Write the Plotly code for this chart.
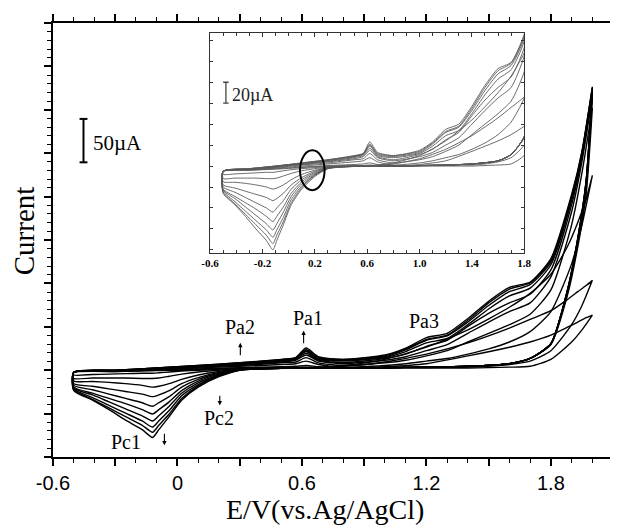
import plotly.graph_objects as go

# ---------------- data (potential in V, current in µA, baseline = 0) ----------------
fwd_E = [-0.5, -0.3, -0.1, 0.1, 0.3, 0.5, 0.57, 0.62, 0.68, 0.8, 1.0, 1.1, 1.2, 1.3,
         1.4, 1.5, 1.6, 1.7, 1.8, 1.9, 1.95, 2.0]
rev_E = [2.0, 1.97, 1.93, 1.88, 1.8, 1.7, 1.6, 1.4, 1.2, 1.0, 0.8, 0.6, 0.4, 0.3,
         0.2, 0.1, 0.02, -0.04, -0.09, -0.12, -0.17, -0.25, -0.33, -0.41, -0.5]

cycle1_fwd = [-5, -4, -3, -1.5, 0, 0.5, 0.5, 1, 0.5, 0, 0, 0, 0, 0, 0, 0.5, 1, 2, 10, 30, 44, 61]
cycle2_fwd = [-5, -4, -2.5, -1, 0.5, 1.5, 2, 3, 1.5, 0, 0, 0.5, 0.5, 1, 1, 2, 4, 8, 20, 50, 72, 101]
cycle3_fwd = [-5, -3.5, -2, 0, 2, 4, 5, 8, 4, 1, 3, 5, 8, 11, 16, 22, 30, 42, 65, 120, 165, 222]
cycle4_fwd = [-5, -3.5, -1.5, 1, 3, 6, 7, 12, 6, 3, 6, 9, 14, 20, 30, 40, 50, 62, 90, 165, 225, 300]
cycle5_fwd = [-5, -3, -1, 1.5, 4, 7, 9, 15, 8, 5, 9, 13, 20, 27, 40, 53, 65, 75, 105, 180, 238, 312]
cycle6_fwd = [-5, -3, -0.5, 2, 4.5, 8, 10, 17, 9, 6, 11, 16, 25, 32, 48, 63, 75, 85, 113, 188, 243, 318]
cycle7_fwd = [-5, -3, -0.5, 2.5, 5, 9, 11, 19, 10, 8, 12, 19, 29, 34, 50, 68, 83, 92, 119, 193, 246, 320]
cycle8_fwd = [-5, -2.5, 0, 2.5, 5.5, 9, 11.5, 20, 11, 9, 13, 21, 32, 37, 53, 72, 88, 96, 122, 196, 248, 322]
cycle9_fwd = [-5, -2.5, 0, 3, 6, 9.5, 12, 21, 12, 10, 14, 22, 33, 38, 55, 75, 91, 98, 124, 198, 249, 323]
cycle10_fwd = [-5, -2.5, 0, 3, 6, 10, 12, 23, 13, 10, 15, 23, 35, 40, 57, 77, 93, 99, 126, 200, 250, 324]

cycle1_rev = [61, 58, 53, 47, 38, 30, 24, 14, 5, 1.5, 0, 0, 0, -0.5, -1.5, -2.5, -3.5, -4.5, -5.5, -6, -6, -6.5, -7, -7.5, -8]
cycle2_rev = [101, 95, 88, 79, 66, 56, 46, 29, 16, 7, 2, 0, -0.3, -1, -2.5, -4.5, -7, -9.5, -11.5, -12, -12, -11.5, -11.5, -11.5, -12]
cycle3_rev = [222, 195, 168, 140, 108, 86, 70, 44, 24, 10, 3, 0, -0.5, -1.2, -4, -8, -13, -18, -21, -22, -20, -18, -16.5, -15.5, -15]
cycle4_rev = [300, 200, 140, 84, 27, 11, 5, 2, 1, 0.5, 0, 0, -0.5, -1.5, -5, -11, -18, -26, -31, -33, -30, -27, -24, -21, -18]
cycle5_rev = [312, 208, 145, 87, 28, 11, 5, 2, 1, 0.5, 0, 0, -0.6, -1.8, -6, -13, -22, -33, -40, -44, -40, -35, -30, -25, -20]
cycle6_rev = [318, 212, 147, 88, 28, 11, 5, 2, 1, 0.5, 0, 0, -0.7, -2, -7, -15, -26, -39, -48, -53, -48, -41, -35, -29, -22]
cycle7_rev = [320, 213, 148, 89, 28, 11, 5, 2, 1, 0.5, 0, 0, -0.8, -2, -8, -17, -29, -44, -55, -61, -55, -47, -39, -31, -23]
cycle8_rev = [322, 215, 149, 89, 28, 11, 5, 2, 1, 0.5, 0, 0, -0.9, -2.2, -8.5, -19, -32, -49, -61, -68, -61, -52, -43, -34, -24]
cycle9_rev = [323, 215, 150, 90, 28, 11, 5, 2, 1, 0.5, 0, 0, -1, -2.4, -9, -20.5, -35, -53, -66, -74, -66, -56, -46, -36, -25]
cycle10_rev = [324, 216, 150, 90, 28, 11, 5, 2, 1, 0.5, 0, 0, -1, -2.5, -10, -22, -37, -56, -71, -80, -71, -60, -48, -37, -26]

fwd_cycles = [cycle1_fwd, cycle2_fwd, cycle3_fwd, cycle4_fwd, cycle5_fwd,
              cycle6_fwd, cycle7_fwd, cycle8_fwd, cycle9_fwd, cycle10_fwd]
rev_cycles = [cycle1_rev, cycle2_rev, cycle3_rev, cycle4_rev, cycle5_rev,
              cycle6_rev, cycle7_rev, cycle8_rev, cycle9_rev, cycle10_rev]

main_x_tickvals = [-0.6, -0.3, 0, 0.3, 0.6, 0.9, 1.2, 1.5, 1.8, 2.1]
main_x_ticktext = ["-0.6", "", "0", "", "0.6", "", "1.2", "", "1.8", ""]
inset_x_tickvals = [-0.6, -0.2, 0.2, 0.6, 1.0, 1.4, 1.8]
inset_x_ticktext = ["-0.6", "-0.2", "0.2", "0.6", "1.0", "1.4", "1.8"]

peak_labels = ["Pa2", "Pa1", "Pa3", "Pc2", "Pc1"]
peak_label_E = [0.303, 0.627, 1.188, 0.199, -0.248]
peak_label_I = [47, 58, 54, -58, -85]

SERIF = "Liberation Serif, Times New Roman, serif"
SANS = "Liberation Sans, Arial, sans-serif"

fig = go.Figure()

for f, r in zip(fwd_cycles, rev_cycles):
    xs = fwd_E + rev_E + [fwd_E[0]]
    ys = f + r + [f[0]]
    fig.add_trace(go.Scatter(x=xs, y=ys, mode="lines", xaxis="x", yaxis="y",
                             line=dict(color="black", width=1.4, shape="spline", smoothing=0.6),
                             showlegend=False, hoverinfo="skip"))
for f, r in zip(fwd_cycles, rev_cycles):
    xs = fwd_E + rev_E + [fwd_E[0]]
    ys = f + r + [f[0]]
    fig.add_trace(go.Scatter(x=xs, y=ys, mode="lines", xaxis="x2", yaxis="y2",
                             line=dict(color="#5a5a5a", width=0.9, shape="spline", smoothing=0.6),
                             showlegend=False, hoverinfo="skip"))

shapes = []
# 50 µA scale bar (main)
shapes += [
    dict(type="line", xref="x", yref="y", x0=-0.453, x1=-0.453, y0=237, y1=287, line=dict(color="black", width=2)),
    dict(type="line", xref="x", yref="y", x0=-0.472, x1=-0.434, y0=237, y1=237, line=dict(color="black", width=2)),
    dict(type="line", xref="x", yref="y", x0=-0.472, x1=-0.434, y0=287, y1=287, line=dict(color="black", width=2)),
]
# 20 µA scale bar (inset)
shapes += [
    dict(type="line", xref="x2", yref="y2", x0=-0.479, x1=-0.479, y0=60, y1=80, line=dict(color="#444", width=1.3)),
    dict(type="line", xref="x2", yref="y2", x0=-0.5, x1=-0.458, y0=60, y1=60, line=dict(color="#444", width=1.3)),
    dict(type="line", xref="x2", yref="y2", x0=-0.5, x1=-0.458, y0=80, y1=80, line=dict(color="#444", width=1.3)),
]
# ellipse in inset
shapes.append(dict(type="circle", xref="x2", yref="y2", x0=0.087, x1=0.275, y0=-23, y1=15,
                   line=dict(color="black", width=2)))

annotations = []
for t, xe, yi in zip(peak_labels, peak_label_E, peak_label_I):
    annotations.append(dict(text=t, x=xe, y=yi, xref="x", yref="y", showarrow=False,
                            xanchor="center", yanchor="middle",
                            font=dict(family=SERIF, size=20, color="black")))
# small arrows
arrow_specs = [(0.303, 29, 14), (0.608, 43, 14), (0.204, -43, -11), (-0.063, -89, -13)]
for xe, yi, ay in arrow_specs:
    annotations.append(dict(text="", x=xe, y=yi, xref="x", yref="y", showarrow=True,
                            ax=0, ay=ay, arrowhead=2, arrowsize=0.8, arrowwidth=1.1,
                            arrowcolor="black", standoff=0))
annotations.append(dict(text="50µA", x=-0.415, y=259, xref="x", yref="y", xanchor="left",
                        yanchor="middle",
                        showarrow=False, font=dict(family=SERIF, size=21, color="black")))
annotations.append(dict(text="20µA", x=-0.445, y=68, xref="x2", yref="y2", xanchor="left",
                        yanchor="middle",
                        showarrow=False, font=dict(family=SERIF, size=18, color="#222")))
annotations.append(dict(text="E/V(vs.Ag/AgCl)", x=0.488, y=-0.121, xref="paper", yref="paper",
                        xanchor="center", yanchor="middle",
                        showarrow=False, font=dict(family=SERIF, size=28, color="black")))
annotations.append(dict(text="Current", x=-0.0514, y=0.521, xref="paper", yref="paper",
                        xanchor="center", yanchor="middle",
                        textangle=-90, showarrow=False, font=dict(family=SERIF, size=29, color="black")))

fig.update_layout(
    width=617, height=527,
    margin=dict(l=53, r=0, t=23, b=70),
    paper_bgcolor="white", plot_bgcolor="white",
    shapes=shapes, annotations=annotations,
    xaxis=dict(domain=[0, 1], range=[-0.6, 2.085], showline=True, linecolor="black", linewidth=2,
               mirror="allticks", ticks="outside", ticklen=7, tickwidth=1.5, tickcolor="black",
               tickmode="array", tickvals=main_x_tickvals, ticktext=main_x_ticktext,
               tickfont=dict(family=SANS, size=20, color="black"), ticklabelstandoff=0,
               showgrid=False, zeroline=False,
               minor=dict(ticks="outside", ticklen=4, tickwidth=1.2, tickcolor="black",
                          tick0=-0.6, dtick=0.1, showgrid=False)),
    yaxis=dict(domain=[0, 1], range=[-102.5, 397.5], showline=True, linecolor="black", linewidth=2,
               ticks="outside", ticklen=7, tickwidth=1.5, tickcolor="black",
               tickmode="linear", tick0=-2.5, dtick=50, showticklabels=False,
               showgrid=False, zeroline=False,
               minor=dict(ticks="outside", ticklen=4, tickwidth=1, tickcolor="black",
                          tick0=-2.5, dtick=10, showgrid=False)),
    xaxis2=dict(domain=[0.282, 0.846], anchor="y2", range=[-0.6, 1.8], showline=True,
                linecolor="#333", linewidth=1.2, mirror="allticks", ticks="inside", ticklen=4,
                tickwidth=1, tickcolor="#333", tickmode="array", tickvals=inset_x_tickvals,
                ticktext=["<b>" + t + "</b>" for t in inset_x_ticktext],
                tickfont=dict(family=SERIF, size=11, color="black"),
                showgrid=False, zeroline=False,
                minor=dict(ticks="inside", ticklen=2.5, tickwidth=0.8, tickcolor="#333",
                           tick0=-0.6, dtick=0.1, showgrid=False)),
    yaxis2=dict(domain=[0.470, 0.977], anchor="x2", range=[-83, 127], showline=True,
                linecolor="#333", linewidth=1.2, mirror="allticks", ticks="inside", ticklen=3,
                tickwidth=1, tickcolor="#333", tickmode="linear", tick0=0, dtick=20,
                showticklabels=False, showgrid=False, zeroline=False),
)

fig.write_html("out.html")
